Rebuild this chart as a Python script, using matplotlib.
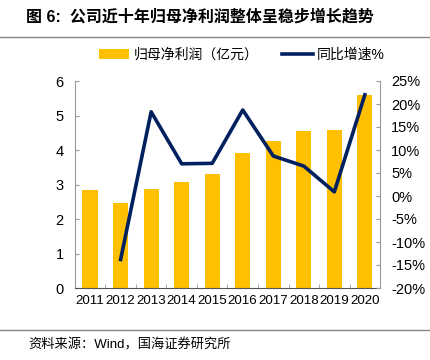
import numpy as np
import matplotlib.pyplot as plt
from matplotlib.ticker import FuncFormatter, FixedLocator

plt.rcParams['font.family'] = ['Liberation Sans', 'Noto Sans CJK SC', 'DejaVu Sans']

years = ['2011', '2012', '2013', '2014', '2015', '2016', '2017', '2018', '2019', '2020']
profit = [2.83, 2.45, 2.88, 3.08, 3.30, 3.92, 4.27, 4.54, 4.59, 5.59]
growth_years = years[1:]
growth = [-13.8, 18.3, 7.0, 7.1, 18.7, 8.7, 6.5, 0.9, 22.0]

fig = plt.figure(figsize=(4.3, 3.6), dpi=100)
ax = fig.add_axes([0.174, 0.2, 0.71, 0.575])
x = np.arange(len(years))
bars = ax.bar(x, profit, width=0.5, color='#FFC000', label='归母净利润（亿元）')
ax.set_ylim(0, 6)
ax.set_xlim(-0.5, len(years) - 0.5)
ax.set_yticks(range(0, 7))
ax.set_xticks(x)
ax.set_xticklabels(years)
ax.xaxis.set_minor_locator(FixedLocator(np.arange(-0.5, len(years), 1)))
ax.tick_params(axis='x', which='major', length=0, labelsize=9.6, pad=5)
ax.tick_params(axis='x', which='minor', direction='in', length=3, color='#999999')
ax.tick_params(axis='y', direction='in', length=3, color='#999999', labelsize=10.5, pad=8)

ax2 = ax.twinx()
line, = ax2.plot(x[1:], growth, color='#002060', lw=2.6, label='同比增速%')
ax2.set_ylim(-20, 25)
ax2.set_yticks(range(-20, 26, 5))
ax2.yaxis.set_major_formatter(FuncFormatter(lambda v, p: f'{v:.0f}%'))
ax2.tick_params(axis='y', direction='in', length=3, color='#999999', labelsize=10.5, pad=8)

for a in (ax, ax2):
    for s in a.spines.values():
        s.set_visible(False)
ax.spines['left'].set_visible(True)
ax.spines['bottom'].set_visible(True)
ax2.spines['right'].set_visible(True)
ax.spines['left'].set_color('#999999')
ax.spines['bottom'].set_color('#555555')
ax2.spines['right'].set_color('#999999')

fig.legend([bars, line], ['归母净利润（亿元）', '同比增速%'], loc='center',
           bbox_to_anchor=(0.562, 0.848), ncol=2, frameon=False, fontsize=10,
           handlelength=2.2, columnspacing=1.7, handletextpad=0.3)

fig.text(0.06, 0.955, '图 6:  公司近十年归母净利润整体呈稳步增长趋势', fontsize=11.5,
         fontweight='bold', va='center')
fig.add_artist(plt.Line2D([0, 1], [0.897, 0.897], color='#888888', lw=1))
fig.add_artist(plt.Line2D([0, 1], [0.083, 0.083], color='#888888', lw=1))
fig.text(0.065, 0.042, '资料来源：Wind，国海证券研究所', fontsize=9.5, va='center')

fig.savefig('out.png')
